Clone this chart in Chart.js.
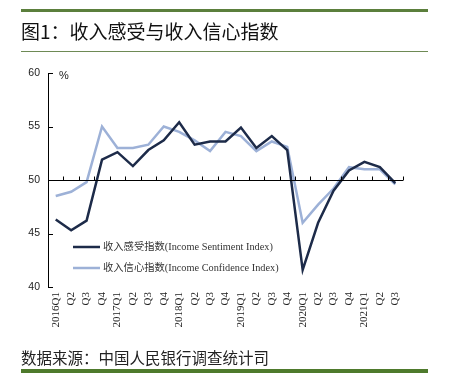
<!DOCTYPE html>
<html><head><meta charset="utf-8">
<script src="https://cdn.jsdelivr.net/npm/chart.js@4.4.0/dist/chart.umd.min.js"></script>
<style>
html,body{margin:0;padding:0;background:#fff;}
#wrap{position:relative;width:449px;height:373px;overflow:hidden;}
#c{position:absolute;left:0;top:0;}
.line1{position:absolute;left:21px;width:407px;top:9px;height:3px;background:#5b7f3c;}
.line2{position:absolute;left:21px;width:407px;top:51px;height:1px;background:#6e8a55;}
.line3{position:absolute;left:21px;width:407px;top:369px;height:4px;background:#4e7a2c;}
.title{position:absolute;left:21px;top:19px;font-family:"Noto Sans CJK SC";font-size:19px;line-height:24px;color:#111;white-space:nowrap;}
.src{position:absolute;left:21px;top:347px;font-family:"Noto Sans CJK SC";font-size:15.5px;line-height:20px;color:#222;white-space:nowrap;}
</style></head>
<body><div id="wrap">
<canvas id="c" width="449" height="373"></canvas>
<div class="line1"></div><div class="title">图1：收入感受与收入信心指数</div><div class="line2"></div>
<div class="src">数据来源：中国人民银行调查统计司</div><div class="line3"></div>
</div>
<script>
const categories = ["2016Q1","Q2","Q3","Q4","2017Q1","Q2","Q3","Q4","2018Q1","Q2","Q3","Q4","2019Q1","Q2","Q3","Q4","2020Q1","Q2","Q3","Q4","2021Q1","Q2","Q3"];
const sentiment = [46.3,45.3,46.2,51.9,52.6,51.3,52.8,53.7,55.4,53.3,53.6,53.6,54.9,53.0,54.1,52.8,41.6,46.0,49.0,50.9,51.7,51.2,49.7];
const confidence = [48.5,48.9,49.8,55.0,53.0,53.0,53.3,55.0,54.5,53.7,52.7,54.5,54.1,52.7,53.6,53.1,46.0,47.7,49.2,51.2,51.0,51.0,49.6];
const seriesNames = ["收入感受指数(Income Sentiment Index)","收入信心指数(Income Confidence Index)"];
const yTicks = [40,45,50,55,60];
const refLine = 50;

const overlay = {
  id:'overlay',
  afterDraw(chart){
    const {ctx, chartArea:a, scales:{x,y}} = chart;
    ctx.save();
    ctx.strokeStyle='#000'; ctx.lineWidth=1;
    ctx.beginPath(); ctx.moveTo(a.left+0.5, a.top); ctx.lineTo(a.left+0.5, a.bottom); ctx.stroke();
    yTicks.forEach(v=>{const py=Math.round(y.getPixelForValue(v))+0.5; ctx.beginPath(); ctx.moveTo(a.left, py); ctx.lineTo(a.left+5, py); ctx.stroke();});
    const ry = Math.round(y.getPixelForValue(refLine))+0.5;
    ctx.beginPath(); ctx.moveTo(a.left, ry); ctx.lineTo(a.right, ry); ctx.stroke();
    for(let i=0;i<categories.length;i++){
      let px;
      if(i<categories.length-1) px=(x.getPixelForValue(i)+x.getPixelForValue(i+1))/2; else px=a.right;
      px=Math.round(px)+0.5;
      ctx.beginPath(); ctx.moveTo(px, ry); ctx.lineTo(px, ry-4); ctx.stroke();
    }
    ctx.fillStyle='#222'; ctx.font='11px "Liberation Sans"'; ctx.textBaseline='middle'; ctx.textAlign='left';
    ctx.fillText('%', a.left+11, a.top+3);
    const ds = chart.data.datasets;
    const ly=[247,268];
    ds.forEach((d,i)=>{
      ctx.strokeStyle=d.borderColor; ctx.lineWidth=2.5;
      ctx.beginPath(); ctx.moveTo(73, ly[i]); ctx.lineTo(100, ly[i]); ctx.stroke();
      ctx.fillStyle='#333'; ctx.font='10.3px "Liberation Serif","Noto Sans CJK SC"';
      ctx.fillText(d.label, 103, ly[i]);
    });
    ctx.restore();
  }
};

new Chart(document.getElementById('c'),{
  type:'line',
  data:{labels:categories,datasets:[
    {label:seriesNames[0],data:sentiment,borderColor:'#1d2b49',borderWidth:2.5,pointRadius:0,tension:0,order:1},
    {label:seriesNames[1],data:confidence,borderColor:'#9db1d7',borderWidth:2.5,pointRadius:0,tension:0,order:2}
  ]},
  options:{
    responsive:false,animation:false,
    layout:{padding:{top:73,right:46,bottom:0,left:0}},
    plugins:{legend:{display:false},tooltip:{enabled:false}},
    scales:{
      x:{type:'category',offset:true,grid:{display:false,drawTicks:false},border:{display:false},
         ticks:{autoSkip:false,maxRotation:90,minRotation:90,padding:5,color:'#222',font:{family:'Liberation Serif',size:11}},
         afterFit(s){s.height=86;}},
      y:{min:40,max:60,grid:{display:false,drawTicks:false},border:{display:false},
         afterBuildTicks(s){s.ticks=yTicks.map(v=>({value:v}));},
         ticks:{padding:8,color:'#222',font:{family:'Liberation Sans',size:10.5}},
         afterFit(s){s.width=48;}}
    }
  },
  plugins:[overlay]
});
</script>
</body></html>
